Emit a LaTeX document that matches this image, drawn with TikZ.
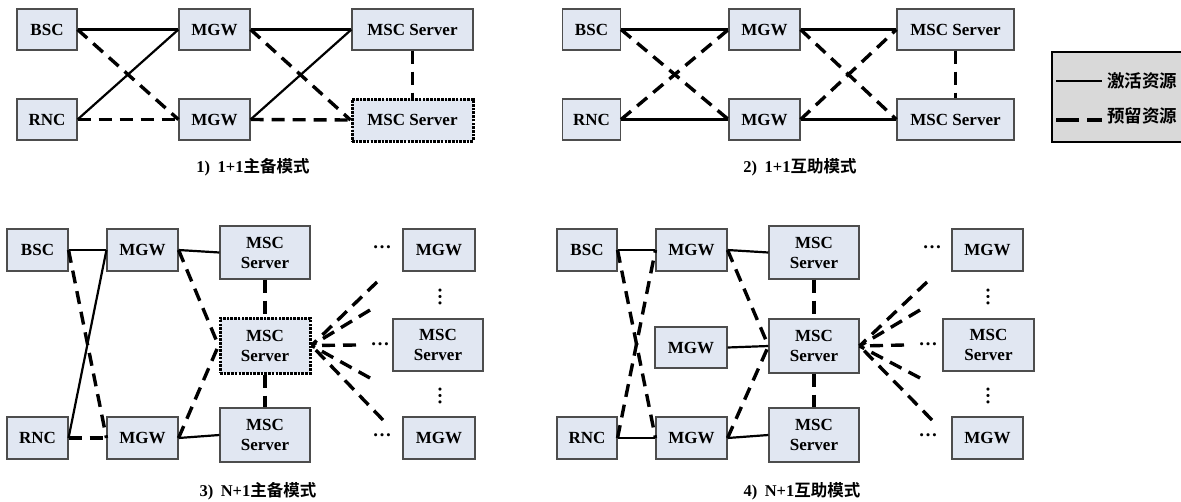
\documentclass[tikz,border=0pt]{standalone}
\usepackage{fontspec}
\setmainfont{Liberation Serif}
\newfontfamily\cjk{Noto Sans CJK SC}[BoldFont={Noto Sans CJK SC Bold}]
\definecolor{boxfill}{HTML}{E1E7F2}
\definecolor{boxline}{HTML}{4D4D4D}
\definecolor{legfill}{HTML}{D9D9D9}
\begin{document}
\begin{tikzpicture}[x=1pt,y=-1pt,
  box/.style={draw=boxline,line width=1.1pt,fill=boxfill,inner sep=0pt,
    font=\fontsize{17}{20}\selectfont\bfseries,align=center},
  spare/.style={box,draw=black,line width=3pt,dash pattern=on 2.6pt off 1.1pt},
  act/.style={line width=2.2pt},
  res/.style={line width=3.4pt,dash pattern=on 13pt off 8pt},
  captext/.style={font=\fontsize{16.5}{18}\selectfont\bfseries},
  dots/.style={font=\fontsize{19}{20}\selectfont\bfseries,inner sep=0pt}
]
\useasboundingbox (0,0) rectangle (1181,501);

% ---------------- Panel 1 ----------------
\node[box,minimum width=60,minimum height=41] (bscA) at (47,29.5) {BSC};
\node[box,minimum width=71,minimum height=41] (mgwA1) at (214.5,29.5) {MGW};
\node[box,minimum width=121,minimum height=41] (mscA1) at (412.5,29.5) {MSC Server};
\node[box,minimum width=60,minimum height=41] (rncA) at (47,119.5) {RNC};
\node[box,minimum width=71,minimum height=41] (mgwA2) at (214.5,119.5) {MGW};
\node[spare,minimum width=121,minimum height=42] (mscA2) at (412.5,120) {MSC Server};
\draw[act] (bscA.east) -- (mgwA1.west);
\draw[act] (rncA.east) -- (mgwA1.west);
\draw[res] (bscA.east) -- (mgwA2.west);
\draw[res] (rncA.east) -- (mgwA2.west);
\draw[act] (mgwA1.east) -- (mscA1.west);
\draw[act] (mgwA2.east) -- (mscA1.west);
\draw[res] (mgwA1.east) -- (mscA2.west);
\draw[res] (mgwA2.east) -- (mscA2.west);
\draw[res] (mscA1.south) -- (mscA2.north);
\node[captext] (capA) at (253,167) {1)\hspace{0.45em}1+1{\cjk\bfseries 主备模式}};

% ---------------- Panel 2 ----------------
\node[box,minimum width=58,minimum height=41] (bscB) at (591.5,29.5) {BSC};
\node[box,minimum width=71,minimum height=41] (mgwB1) at (764.5,29.5) {MGW};
\node[box,minimum width=117,minimum height=41] (mscB1) at (955.5,29.5) {MSC Server};
\node[box,minimum width=58,minimum height=41] (rncB) at (591.5,119.5) {RNC};
\node[box,minimum width=71,minimum height=41] (mgwB2) at (764.5,119.5) {MGW};
\node[box,minimum width=117,minimum height=41] (mscB2) at (955.5,119.5) {MSC Server};
\draw[act] (bscB.east) -- (mgwB1.west);
\draw[act] (rncB.east) -- (mgwB2.west);
\draw[res] (bscB.east) -- (mgwB2.west);
\draw[res] (rncB.east) -- (mgwB1.west);
\draw[act] (mgwB1.east) -- (mscB1.west);
\draw[act] (mgwB2.east) -- (mscB2.west);
\draw[res] (mgwB1.east) -- (mscB2.west);
\draw[res] (mgwB2.east) -- (mscB1.west);
\draw[res] (mscB1.south) -- (mscB2.north);
\node[captext] (capB) at (800,167) {2)\hspace{0.45em}1+1{\cjk\bfseries 互助模式}};

% ---------------- Legend ----------------
\draw[fill=legfill,line width=1.6pt] (1052,52) rectangle (1190,142);
\coordinate (la1) at (1056,81);
\coordinate (la2) at (1102,81);
\coordinate (lb1) at (1056,120);
\coordinate (lb2) at (1102,120);
\draw[act] (la1) -- (la2);
\draw[line width=3.4pt,dash pattern=on 23pt off 8pt] (lb1) -- (lb2);
\node[font=\fontsize{17.5}{19}\selectfont\cjk\bfseries,anchor=west,inner sep=0pt] (lega) at (1107,81) {激活资源};
\node[font=\fontsize{17.5}{19}\selectfont\cjk\bfseries,anchor=west,inner sep=0pt] (legb) at (1107,116) {预留资源};

% ---------------- Panel 3 ----------------
\node[box,minimum width=61,minimum height=42] (bscC) at (37.5,250) {BSC};
\node[box,minimum width=71,minimum height=42] (mgwC1) at (142.5,250) {MGW};
\node[box,minimum width=90,minimum height=53] (mscC1) at (265,252.5) {MSC\\Server};
\node[spare,minimum width=90,minimum height=55] (mscC2) at (265,345.5) {MSC\\Server};
\node[box,minimum width=90,minimum height=54] (mscC3) at (265,435) {MSC\\Server};
\node[box,minimum width=61,minimum height=42] (rncC) at (37.5,438) {RNC};
\node[box,minimum width=71,minimum height=42] (mgwC2) at (142.5,438) {MGW};
\node[box,minimum width=72,minimum height=42] (mgwC3) at (439,250) {MGW};
\node[box,minimum width=90,minimum height=52] (mscC4) at (438,345) {MSC\\Server};
\node[box,minimum width=72,minimum height=42] (mgwC4) at (439,438) {MGW};
\node[dots] (dC1) at (382,247) {…};
\node[dots] (dC2) at (380,344) {…};
\node[dots] (dC3) at (382,435) {…};
\node[dots,rotate=90] (dC4) at (440,297) {…};
\node[dots,rotate=90] (dC5) at (440,396) {…};
\draw[act] (bscC.east) -- (mgwC1.west);
\draw[act] (rncC.east) -- (mgwC1.west);
\draw[res] (bscC.east) -- (mgwC2.west);
\draw[res] (rncC.east) -- (mgwC2.west);
\draw[act] (mgwC1.east) -- (mscC1.west);
\draw[act] (mgwC2.east) -- (mscC3.west);
\draw[res] (mgwC1.east) -- (mscC2.west);
\draw[res] (mgwC2.east) -- (mscC2.west);
\draw[res] (mscC1.south) -- (mscC2.north);
\draw[res] (mscC2.south) -- (mscC3.north);
\coordinate (fC1) at (377,282);
\coordinate (fC2) at (370,310);
\coordinate (fC3) at (356,345);
\coordinate (fC4) at (370,378);
\coordinate (fC5) at (383,420);
\foreach \p in {fC1,fC2,fC3,fC4,fC5} \draw[res] (\p) -- (mscC2.east);
\node[captext] (capC) at (258,491) {3)\hspace{0.45em}N+1{\cjk\bfseries 主备模式}};

% ---------------- Panel 4 ----------------
\node[box,minimum width=60,minimum height=42] (bscD) at (587,250) {BSC};
\node[box,minimum width=71,minimum height=42] (mgwD1) at (691.5,250) {MGW};
\node[box,minimum width=72,minimum height=41] (mgwD2) at (691,347.5) {MGW};
\node[box,minimum width=90,minimum height=53] (mscD1) at (814,252.5) {MSC\\Server};
\node[box,minimum width=90,minimum height=54] (mscD2) at (814,346) {MSC\\Server};
\node[box,minimum width=90,minimum height=54] (mscD3) at (814,435) {MSC\\Server};
\node[box,minimum width=60,minimum height=42] (rncD) at (587,438) {RNC};
\node[box,minimum width=71,minimum height=42] (mgwD3) at (691.5,438) {MGW};
\node[box,minimum width=71,minimum height=42] (mgwD4) at (987.5,250) {MGW};
\node[box,minimum width=91,minimum height=52] (mscD4) at (988.5,345) {MSC\\Server};
\node[box,minimum width=71,minimum height=42] (mgwD5) at (987.5,438) {MGW};
\node[dots] (dD1) at (932,247) {…};
\node[dots] (dD2) at (928,344) {…};
\node[dots] (dD3) at (928,435) {…};
\node[dots,rotate=90] (dD4) at (988,297) {…};
\node[dots,rotate=90] (dD5) at (988,396) {…};
\draw[act] (bscD.east) -- (mgwD1.west);
\draw[act] (rncD.east) -- (mgwD3.west);
\draw[res] (bscD.east) -- (mgwD3.west);
\draw[res] (rncD.east) -- (mgwD1.west);
\draw[act] (mgwD1.east) -- (mscD1.west);
\draw[act] (mgwD2.east) -- (mscD2.west);
\draw[act] (mgwD3.east) -- (mscD3.west);
\draw[res] (mgwD1.east) -- (mscD2.west);
\draw[res] (mgwD3.east) -- (mscD2.west);
\draw[res] (mscD1.south) -- (mscD2.north);
\draw[res] (mscD2.south) -- (mscD3.north);
\coordinate (fD1) at (927,282);
\coordinate (fD2) at (920,310);
\coordinate (fD3) at (904,345);
\coordinate (fD4) at (920,378);
\coordinate (fD5) at (932,420);
\foreach \p in {fD1,fD2,fD3,fD4,fD5} \draw[res] (\p) -- (mscD2.east);
\node[captext] (capD) at (802,491) {4)\hspace{0.45em}N+1{\cjk\bfseries 互助模式}};
\end{tikzpicture}
\end{document}
